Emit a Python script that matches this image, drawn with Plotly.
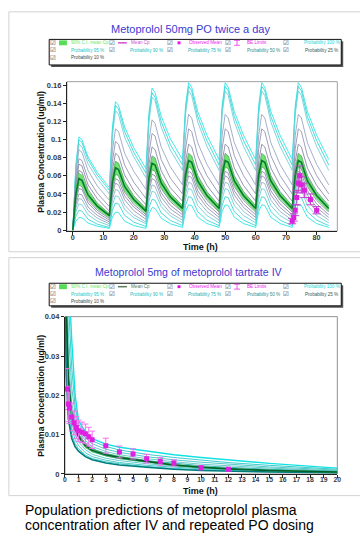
import plotly.graph_objects as go

W, H = 360, 537

# ---------------- PO panel data (ug/ml) ----------------
po_dose_times = [0, 12, 24, 36, 48, 60, 72]
po_rel_times = [0, 1, 2, 3, 5, 8]
po_end_time = 84

po_line_names = ["P100 upper", "P95 upper", "P90 upper", "P75 upper", "P50 upper", "P25 upper", "P10 upper",
                 "P10 lower", "P25 lower", "P50 lower", "P75 lower", "P90 lower", "P95 lower", "P100 lower"]
po_line_colors = ["#2ee6e6", "#3fd4d4", "#6fd0d6", "#9aa6c4", "#9494b4", "#8a8aa8", "#80889c",
                  "#80889c", "#8a8aa8", "#9494b4", "#8fb4c4", "#6fd0d6", "#3fd4d4", "#2ee6e6"]

# first dose interval (0-12 h)
po_dose1 = [
    [0, .072, .103, .100, .081, .064],
    [0, .070, .100, .097, .078, .061],
    [0, .066, .095, .092, .073, .057],
    [0, .062, .089, .086, .066, .049],
    [0, .055, .079, .077, .057, .041],
    [0, .051, .073, .071, .050, .035],
    [0, .046, .066, .064, .045, .030],
    [0, .035, .050, .048, .033, .022],
    [0, .032, .046, .045, .030, .0195],
    [0, .028, .040, .039, .0256, .0164],
    [0, .0245, .035, .034, .0216, .0133],
    [0, .020, .029, .028, .0171, .0100],
    [0, .0154, .022, .021, .0121, .0066],
    [0, .0098, .014, .0136, .0078, .0044],
]
# second dose interval (12-24 h)
po_dose2 = [
    [.047, .114, .142, .138, .114, .091],
    [.044, .110, .138, .134, .109, .086],
    [.040, .104, .132, .128, .103, .081],
    [.033, .088, .112, .109, .085, .065],
    [.026, .076, .098, .095, .072, .053],
    [.021, .066, .085, .082, .061, .0436],
    [.018, .059, .076, .074, .054, .038],
    [.013, .047, .062, .060, .042, .0285],
    [.011, .043, .057, .055, .038, .0256],
    [.009, .039, .052, .050, .0335, .0216],
    [.007, .0336, .045, .0437, .0278, .0171],
    [.005, .028, .038, .037, .0229, .0138],
    [.003, .022, .030, .029, .0164, .0089],
    [.002, .0146, .020, .0194, .0100, .0050],
]
# third dose interval (24-36 h)
po_dose3 = [
    [.068, .130, .157, .152, .126, .101],
    [.063, .125, .152, .147, .120, .0945],
    [.058, .120, .147, .143, .114, .0885],
    [.045, .099, .122, .118, .092, .070],
    [.035, .085, .107, .104, .078, .0575],
    [.028, .073, .092, .089, .0657, .0469],
    [.024, .065, .082, .080, .058, .041],
    [.017, .052, .067, .065, .0459, .0315],
    [.015, .048, .062, .060, .0413, .0275],
    [.012, .0435, .057, .055, .0366, .0235],
    [.009, .0377, .050, .0485, .0309, .019],
    [.007, .032, .043, .0417, .026, .0157],
    [.004, .025, .034, .033, .0191, .0107],
    [.002, .018, .025, .024, .0132, .0070],
]
# steady-state interval (repeats at 36, 48, 60, 72 h)
po_steady = [
    [.078, .138, .163, .158, .131, .105],
    [.072, .133, .159, .154, .1255, .099],
    [.066, .128, .154, .149, .1195, .0927],
    [.050, .105, .128, .124, .0965, .0728],
    [.040, .090, .112, .109, .0822, .0604],
    [.032, .076, .095, .092, .0686, .0495],
    [.027, .0676, .085, .082, .0603, .0428],
    [.020, .055, .070, .068, .0481, .033],
    [.017, .0506, .065, .063, .0435, .0291],
    [.014, .0462, .060, .058, .0388, .0251],
    [.011, .0404, .053, .0514, .0331, .0207],
    [.008, .0346, .046, .0446, .0272, .0161],
    [.005, .0274, .037, .0359, .0203, .0111],
    [.003, .0205, .028, .0272, .0143, .0073],
]
po_mean = {"d1": [0, .040, .057, .055, .0389, .0266], "d2": [.016, .053, .069, .067, .0483, .0338],
           "d3": [.021, .058, .074, .072, .0521, .0367], "ss": [.024, .061, .077, .075, .0543, .0383]}
po_ci_upper = {"d1": [0, .045, .063, .061, .043, .0295], "d2": [.018, .059, .076, .074, .053, .037],
               "d3": [.0235, .064, .081, .079, .057, .040], "ss": [.027, .067, .084, .082, .059, .0415]}
po_ci_lower = {"d1": [0, .035, .051, .049, .035, .0237], "d2": [.014, .047, .062, .060, .0436, .0306],
               "d3": [.0185, .052, .067, .065, .047, .0334], "ss": [.021, .055, .070, .068, .0496, .035]}

po_obs_time = [72.0, 72.5, 73.0, 73.5, 74.0, 74.5, 75.0, 76.0, 78.0, 80.0]
po_obs_conc = [0.010, 0.014, 0.022, 0.036, 0.052, 0.060, 0.050, 0.044, 0.034, 0.022]
po_obs_err = [0.003, 0.004, 0.006, 0.008, 0.010, 0.011, 0.009, 0.008, 0.006, 0.004]

po_xticks = [0, 10, 20, 30, 40, 50, 60, 70, 80]
po_yticks = [0, 0.02, 0.04, 0.06, 0.08, 0.1, 0.12, 0.14, 0.16]
po_yticktext = ["0", "0.02", "0.04", "0.06", "0.08", "0.1", "0.12", "0.14", "0.16"]

# ---------------- IV panel data (ug/ml) ----------------
iv_time = [0, 0.1, 0.25, 0.5, 0.75, 1, 1.5, 2, 3, 4, 6, 8, 10, 12, 15, 20]
iv_lines = [
    [0.090, 0.070, 0.052, 0.034, 0.020, 0.0135, 0.0108, 0.0090, 0.0076, 0.0068, 0.0058, 0.0049, 0.0042, 0.0036, 0.0027, 0.0015],
    [0.085, 0.062, 0.044, 0.027, 0.0170, 0.0127, 0.0100, 0.0084, 0.0070, 0.0061, 0.0050, 0.0042, 0.0035, 0.0029, 0.0022, 0.0012],
    [0.080, 0.055, 0.036, 0.022, 0.0150, 0.0118, 0.0092, 0.0077, 0.0063, 0.0055, 0.0044, 0.0036, 0.0030, 0.0025, 0.0018, 0.0010],
    [0.075, 0.048, 0.030, 0.018, 0.0135, 0.0110, 0.0085, 0.0070, 0.0057, 0.0049, 0.0039, 0.0031, 0.0025, 0.0021, 0.0015, 0.0008],
    [0.070, 0.044, 0.026, 0.0160, 0.0124, 0.0102, 0.0078, 0.0064, 0.0052, 0.0044, 0.0034, 0.0027, 0.0021, 0.0017, 0.0012, 0.0007],
    [0.065, 0.040, 0.023, 0.0145, 0.0112, 0.0092, 0.0070, 0.0057, 0.0046, 0.0039, 0.0030, 0.0023, 0.0018, 0.0014, 0.0010, 0.0006],
    [0.060, 0.036, 0.020, 0.0130, 0.0100, 0.0082, 0.0062, 0.0050, 0.0040, 0.0034, 0.0026, 0.0020, 0.0015, 0.0012, 0.0008, 0.0005],
    [0.055, 0.032, 0.018, 0.0115, 0.0088, 0.0072, 0.0054, 0.0044, 0.0035, 0.0029, 0.0022, 0.0017, 0.0013, 0.0010, 0.0007, 0.0004],
    [0.050, 0.028, 0.016, 0.0100, 0.0077, 0.0064, 0.0048, 0.0039, 0.0031, 0.0026, 0.0019, 0.0014, 0.0011, 0.0008, 0.0006, 0.0003],
    [0.045, 0.025, 0.014, 0.0090, 0.0069, 0.0058, 0.0044, 0.0036, 0.0028, 0.0023, 0.0017, 0.0012, 0.0009, 0.0007, 0.0005, 0.0003],
]
iv_line_colors = ["#12e2e2", "#3ccccc", "#52caca", "#6ccccc", "#36b8b8",
                  "#36b8b8", "#6ccccc", "#52caca", "#3ccccc", "#007c7c"]
iv_line_widths = [1.4, 1, 1, 1, 1, 1, 1, 1, 1, 1.6]
iv_mean = [0.068, 0.042, 0.024, 0.0150, 0.0115, 0.0096, 0.0072, 0.0060, 0.0049, 0.0042, 0.0032, 0.0023, 0.0017, 0.0013, 0.0009, 0.0005]
iv_ci_upper = [0.072, 0.045, 0.026, 0.0160, 0.0122, 0.0102, 0.0077, 0.0064, 0.0052, 0.0045, 0.0034, 0.0025, 0.0019, 0.0014, 0.0010, 0.0006]
iv_ci_lower = [0.064, 0.039, 0.022, 0.0140, 0.0108, 0.0090, 0.0067, 0.0056, 0.0046, 0.0039, 0.0030, 0.0021, 0.0015, 0.0012, 0.0008, 0.0004]

iv_obs_time = [0.17, 0.25, 0.33, 0.5, 0.67, 0.83, 1.0, 1.25, 1.5, 1.75, 2.0, 3.0, 4.0, 5.0, 6.0, 7.0, 8.0, 10.0, 12.0]
iv_obs_conc = [0.0216, 0.0178, 0.0168, 0.0145, 0.0130, 0.0118, 0.0110, 0.0106, 0.0102, 0.0095, 0.0087,
               0.0072, 0.0056, 0.0051, 0.0039, 0.0032, 0.0028, 0.0016, 0.0012]
iv_obs_err = [0.0052, 0.0045, 0.0040, 0.0035, 0.0030, 0.0028, 0.0027, 0.0026, 0.0025, 0.0024, 0.0022,
              0.0019, 0.0015, 0.0013, 0.0011, 0.0010, 0.0008, 0.0005, 0.0004]

iv_xticks = list(range(0, 21))
iv_yticks = [0, 0.01, 0.02, 0.03, 0.04]
iv_yticktext = ["0", "0.01", "0.02", "0.03", "0.04"]

# ---------------- text ----------------
title_po = "Metoprolol 50mg PO twice a day"
title_iv = "Metoprolol 5mg of metoprolol tartrate IV"
y_title = "Plasma Concentration (ug/ml)"
x_title = "Time (h)"
caption = ["Population predictions of metoprolol plasma",
           "concentration after IV and repeated PO dosing"]
legend_row1 = ["90% C.I. mean Cp", "Mean Cp", "Observed Mean", "BE Limits", "Probability 100 %"]
legend_row2 = ["Probability 95 %", "Probability 90 %", "Probability 75 %", "Probability 50 %", "Probability 25 %"]
legend_row3 = ["Probability 10 %"]
legend_prob_colors = ["#1fd6d6", "#22c8c8", "#22c0c0", "#22b0b0", "#2a8f8f", "#335c5c"]

# ---------------- helpers ----------------
def px(xp):
    return xp / W


def py(yp):
    return 1 - yp / H


po_time = [d + r for d in po_dose_times for r in po_rel_times] + [po_end_time]


def po_series(d1, d2, d3, ss):
    return d1 + d2 + d3 + ss * 4 + [ss[0]]


fig = go.Figure()

# PO percentile lines
for i, name in enumerate(po_line_names):
    fig.add_trace(go.Scatter(x=po_time, y=po_series(po_dose1[i], po_dose2[i], po_dose3[i], po_steady[i]),
                             mode="lines", name=name, line=dict(color=po_line_colors[i], width=0.9),
                             xaxis="x", yaxis="y", showlegend=False))
# PO CI band
fig.add_trace(go.Scatter(x=po_time, y=po_series(po_ci_upper["d1"], po_ci_upper["d2"], po_ci_upper["d3"], po_ci_upper["ss"]),
                         mode="lines", line=dict(color="#4fd44f", width=0.6), xaxis="x", yaxis="y", showlegend=False))
fig.add_trace(go.Scatter(x=po_time, y=po_series(po_ci_lower["d1"], po_ci_lower["d2"], po_ci_lower["d3"], po_ci_lower["ss"]),
                         mode="lines", line=dict(color="#4fd44f", width=0.6), fill="tonexty",
                         fillcolor="rgba(70,215,70,0.75)", xaxis="x", yaxis="y", showlegend=False))
fig.add_trace(go.Scatter(x=po_time, y=po_series(po_mean["d1"], po_mean["d2"], po_mean["d3"], po_mean["ss"]),
                         mode="lines", name="Mean Cp", line=dict(color="#067a2e", width=1.6),
                         xaxis="x", yaxis="y", showlegend=False))
fig.add_trace(go.Scatter(x=po_obs_time, y=po_obs_conc, mode="markers", name="Observed Mean",
                         marker=dict(symbol="square", size=5, color="#dd22dd"),
                         error_y=dict(type="data", array=po_obs_err, color="#c040d0", thickness=1, width=4),
                         xaxis="x", yaxis="y", showlegend=False))

# IV lines
for i, ys in enumerate(iv_lines):
    fig.add_trace(go.Scatter(x=iv_time, y=ys, mode="lines", line=dict(color=iv_line_colors[i], width=iv_line_widths[i]),
                             xaxis="x2", yaxis="y2", showlegend=False))
fig.add_trace(go.Scatter(x=iv_time, y=iv_ci_upper, mode="lines", line=dict(color="#3fb04f", width=0.5),
                         xaxis="x2", yaxis="y2", showlegend=False))
fig.add_trace(go.Scatter(x=iv_time, y=iv_ci_lower, mode="lines", line=dict(color="#3fb04f", width=0.5),
                         fill="tonexty", fillcolor="rgba(60,180,80,0.6)", xaxis="x2", yaxis="y2", showlegend=False))
fig.add_trace(go.Scatter(x=iv_time, y=iv_mean, mode="lines", line=dict(color="#005f2a", width=1.6),
                         xaxis="x2", yaxis="y2", showlegend=False))
fig.add_trace(go.Scatter(x=iv_obs_time, y=iv_obs_conc, mode="markers",
                         marker=dict(symbol="square", size=5, color="#e020e0"),
                         error_y=dict(type="data", array=iv_obs_err, color="#f070f0", thickness=1, width=3),
                         xaxis="x2", yaxis="y2", showlegend=False))

tickfont = dict(family="Liberation Sans", size=7.5, color="#3a3a3a", weight="bold")
axis_common = dict(showline=True, linecolor="#222", linewidth=1, ticks="outside", ticklen=3,
                   tickcolor="#222", showgrid=False, zeroline=False, tickfont=tickfont, fixedrange=True)

fig.update_layout(
    width=W, height=H, margin=dict(l=0, r=0, t=0, b=0),
    paper_bgcolor="white", plot_bgcolor="white", showlegend=False,
    xaxis=dict(domain=[px(66), px(341)], range=[-1.94, 86.8], tickvals=po_xticks, anchor="y",
               ticklabelstandoff=-4, **{**axis_common, "tickfont": dict(family="Liberation Sans", size=7.2, color="#3a3a3a", weight="bold")}),
    yaxis=dict(domain=[py(231), py(79)], range=[-0.00109, 0.16413], tickvals=po_yticks,
               ticktext=po_yticktext, anchor="x", **axis_common),
    xaxis2=dict(domain=[px(64), px(341)], range=[0, 20], tickvals=iv_xticks, anchor="y2", ticklabelstandoff=-4,
                **{**axis_common, "tickfont": dict(family="Liberation Sans", size=6.8, color="#3a3a3a", weight="bold")}),
    yaxis2=dict(domain=[py(478), py(318)], range=[0, 0.04], tickvals=iv_yticks, ticktext=iv_yticktext,
                anchor="x2", **axis_common),
)

shapes = []
ann = []

# cards
for (y0, y1) in [(8, 252), (258, 500)]:
    shapes.append(dict(type="rect", xref="paper", yref="paper", x0=px(7), x1=px(365), y0=py(y1), y1=py(y0),
                       line=dict(color="#d2d2d2", width=1), fillcolor="rgba(0,0,0,0)", layer="below"))
# plot frames (top/right)
shapes.append(dict(type="rect", xref="paper", yref="paper", x0=px(66), x1=px(341), y0=py(231), y1=py(79),
                   line=dict(color="#a0a0a0", width=1), layer="below"))
shapes.append(dict(type="rect", xref="paper", yref="paper", x0=px(64), x1=px(341), y0=py(478), y1=py(318),
                   line=dict(color="#909090", width=1), layer="below"))

# titles
title_font = dict(family="Liberation Sans", size=11, color="#3a3ad0")
ann.append(dict(text=title_po, x=px(192), y=py(25), xref="paper", yref="paper", showarrow=False,
                xanchor="center", yanchor="middle", font=title_font))
ann.append(dict(text=title_iv, x=px(190.5), y=py(273), xref="paper", yref="paper", showarrow=False,
                xanchor="center", yanchor="middle", font=dict(family="Liberation Sans", size=10.6, color="#3a3ad0")))

# axis titles
axt_font = dict(family="Liberation Sans", size=8.6, color="#111", weight="bold")
for yc in [150, 398]:
    ann.append(dict(text=y_title, x=px(40), y=py(yc), xref="paper", yref="paper", showarrow=False,
                    textangle=-90, xanchor="center", yanchor="middle", font=axt_font))
for yc in [247, 495.5]:
    ann.append(dict(text=x_title, x=px(202), y=py(yc), xref="paper", yref="paper", showarrow=False,
                    xanchor="center", yanchor="middle", font=dict(family="Liberation Sans", size=9, color="#111", weight="bold")))

# caption
for k, (line, yc) in enumerate(zip(caption, [515, 530])):
    ann.append(dict(text=line, x=px(21), y=py(yc), xref="paper", yref="paper", showarrow=False,
                    xanchor="left", yanchor="middle", font=dict(family="Liberation Sans", size=14, color="#000")))

# legends
col_x = [52, 112, 171, 230, 289]
text_font_size = 4.6


def add_legend(top, bottom, rows_y, mean_color):
    shapes.append(dict(type="rect", xref="paper", yref="paper", x0=px(50), x1=px(347), y0=py(bottom + 2), y1=py(top + 2),
                       line=dict(width=0), fillcolor="#555"))
    shapes.append(dict(type="rect", xref="paper", yref="paper", x0=px(48), x1=px(345), y0=py(bottom), y1=py(top),
                       line=dict(color="#111", width=1), fillcolor="white"))
    # checkboxes
    for r, n in zip(rows_y, [5, 5, 1]):
        for c in range(n):
            ann.append(dict(text="☑", x=px(col_x[c]), y=py(r), xref="paper", yref="paper", showarrow=False,
                            xanchor="center", yanchor="middle", font=dict(family="DejaVu Sans", size=6.5, color="#444")))
    r1 = rows_y[0]
    # row1 symbols
    shapes.append(dict(type="rect", xref="paper", yref="paper", x0=px(58), x1=px(66), y0=py(r1 + 2.5), y1=py(r1 - 2.5),
                       line=dict(width=0), fillcolor="#55dd55"))
    shapes.append(dict(type="line", xref="paper", yref="paper", x0=px(118), x1=px(127), y0=py(r1), y1=py(r1),
                       line=dict(color=mean_color, width=1.5)))
    shapes.append(dict(type="rect", xref="paper", yref="paper", x0=px(178.5), x1=px(181.5), y0=py(r1 + 1.5), y1=py(r1 - 1.5),
                       line=dict(width=0), fillcolor="#ee11ee"))
    for (xa, xb, ya, yb) in [(236, 242, r1 - 2.5, r1 - 2.5), (236, 242, r1 + 2.5, r1 + 2.5), (239, 239, r1 - 2.5, r1 + 2.5)]:
        shapes.append(dict(type="line", xref="paper", yref="paper", x0=px(xa), x1=px(xb), y0=py(ya), y1=py(yb),
                           line=dict(color="#ee33ee", width=0.8)))
    row1_x = [68, 129, 188, 247, 305]
    row1_c = ["#6ce86c", mean_color, "#ee22ee", "#ee22ee", legend_prob_colors[0]]
    for t, xx, cc in zip(legend_row1, row1_x, row1_c):
        ann.append(dict(text=t, x=px(xx), y=py(r1), xref="paper", yref="paper", showarrow=False,
                        xanchor="left", yanchor="middle", font=dict(family="Liberation Sans", size=text_font_size, color=cc)))
    row2_x = [68, 128, 187, 247, 306]
    for t, xx, cc in zip(legend_row2, row2_x, legend_prob_colors[1:6]):
        ann.append(dict(text=t, x=px(xx), y=py(rows_y[1]), xref="paper", yref="paper", showarrow=False,
                        xanchor="left", yanchor="middle", font=dict(family="Liberation Sans", size=text_font_size, color=cc)))
    ann.append(dict(text=legend_row3[0], x=px(68), y=py(rows_y[2]), xref="paper", yref="paper", showarrow=False,
                    xanchor="left", yanchor="middle", font=dict(family="Liberation Sans", size=text_font_size, color="#3a4c4c")))


add_legend(36, 62, [39.5, 47, 54.5], "#d050d0")
add_legend(284, 307, [287.5, 295, 302.5], "#5a7a5a")

fig.update_layout(shapes=shapes, annotations=ann)
fig.write_html("out.html", config={"displayModeBar": False, "staticPlot": True},
               post_script="document.body.style.margin='0';document.body.style.overflow='hidden';")
